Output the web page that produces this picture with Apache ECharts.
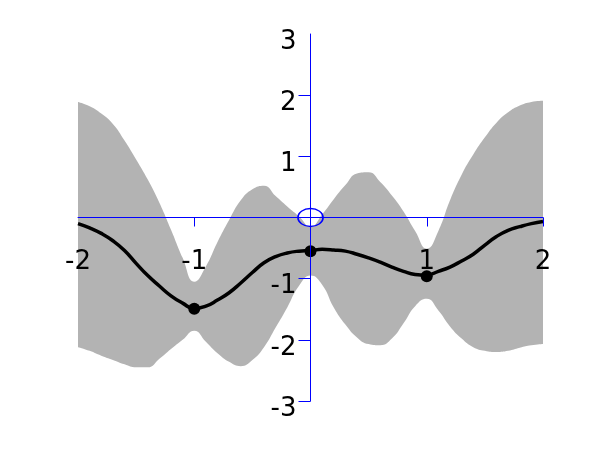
<!DOCTYPE html>
<html>
<head>
<meta charset="utf-8">
<script src="https://cdn.jsdelivr.net/npm/echarts@6/dist/echarts.min.js"></script>
<style>html,body{margin:0;padding:0;background:#fff}#c{width:600px;height:450px}</style>
</head>
<body>
<div id="c"></div>
<script>
const xs = [-2.0,-1.9,-1.8,-1.7,-1.6,-1.5,-1.4,-1.3,-1.2,-1.1,-1.0,-0.9,-0.8,-0.7,-0.6,-0.5,-0.4,-0.3,-0.2,-0.1,0.0,0.1,0.2,0.3,0.4,0.5,0.6,0.7,0.8,0.9,1.0,1.1,1.2,1.3,1.4,1.5,1.6,1.7,1.8,1.9,2.0];
const upper = [1.89,1.82,1.70,1.53,1.26,0.95,0.62,0.24,-0.20,-0.66,-1.05,-0.80,-0.40,-0.04,0.28,0.46,0.52,0.35,0.18,0.02,-0.15,0.05,0.30,0.53,0.72,0.74,0.58,0.36,0.10,-0.22,-0.51,-0.22,0.28,0.70,1.03,1.31,1.55,1.72,1.83,1.89,1.91];
const lower = [-2.12,-2.18,-2.26,-2.33,-2.40,-2.45,-2.45,-2.31,-2.15,-2.00,-1.85,-2.03,-2.22,-2.36,-2.43,-2.33,-2.12,-1.80,-1.47,-1.12,-0.95,-1.10,-1.47,-1.75,-1.96,-2.07,-2.09,-1.98,-1.73,-1.45,-1.33,-1.52,-1.78,-1.98,-2.12,-2.18,-2.20,-2.18,-2.13,-2.09,-2.07];
const mean = [-0.10,-0.17,-0.26,-0.38,-0.54,-0.75,-0.95,-1.12,-1.28,-1.40,-1.49,-1.45,-1.35,-1.23,-1.07,-0.90,-0.74,-0.64,-0.58,-0.55,-0.54,-0.52,-0.53,-0.55,-0.60,-0.66,-0.73,-0.81,-0.88,-0.93,-0.94,-0.88,-0.81,-0.71,-0.60,-0.45,-0.31,-0.21,-0.15,-0.10,-0.065];
const obsX = [-1, 0, 1];
const obsY = [-1.49, -0.55, -0.96];
const xTickLabels = [-2, -1, 1, 2];
const yTickLabels = [-3, -2, -1, 1, 2, 3];
const xTicks = [-1, 0, 1, 2];
const yTicks = [-3, -2, -1, 1, 2];

const chart = echarts.init(document.getElementById('c'), null, {renderer: 'canvas'});
const blue = '#0000ff';
const font = {fontFamily: 'DejaVu Sans', fontSize: 26, fontWeight: 'normal', color: '#000'};
chart.setOption({
  animation: false,
  grid: {left: 78, right: 57, top: 34, bottom: 49, containLabel: false, outerBoundsMode: 'none'},
  xAxis: {
    type: 'value', min: -2, max: 2, z: 10, position: 'bottom',
    axisLine: {onZero: false, lineStyle: {color: blue, width: 1}},
    axisTick: {show: true, length: 9, lineStyle: {color: blue}, customValues: xTicks},
    axisLabel: Object.assign({margin: 32, customValues: xTickLabels}, font),
    splitLine: {show: false}
  },
  yAxis: {
    type: 'value', min: -3, max: 3, z: 10, position: 'left',
    axisLine: {onZero: false, lineStyle: {color: blue, width: 1}},
    axisTick: {show: true, length: 12, lineStyle: {color: blue}, customValues: yTicks},
    axisLabel: Object.assign({margin: 14, verticalAlign: 'top', lineHeight: 16, customValues: yTickLabels}, font),
    splitLine: {show: false}
  },
  series: [
    {
      type: 'line', smooth: true, symbol: 'none',
      data: xs.map((x, i) => [x, upper[i]]),
      lineStyle: {opacity: 0}, areaStyle: {color: '#b3b3b3', opacity: 1, origin: 'start'}, z: 1
    },
    {
      type: 'line', smooth: true, symbol: 'none',
      data: xs.map((x, i) => [x, lower[i]]),
      lineStyle: {opacity: 0}, areaStyle: {color: '#ffffff', opacity: 1, origin: 'start'}, z: 1
    },
    {
      type: 'line', smooth: true, symbol: 'none',
      data: xs.map((x, i) => [x, mean[i]]),
      lineStyle: {color: '#000', width: 3.5}, z: 2
    },
    {
      type: 'scatter', symbol: 'circle', symbolSize: 12,
      data: obsX.map((x, i) => [x, obsY[i]]),
      itemStyle: {color: '#000', opacity: 1}, z: 3
    },
    {
      type: 'scatter', symbol: 'circle', symbolSize: [25, 18],
      data: [[0, 0]],
      itemStyle: {color: 'rgba(0,0,0,0)', borderColor: blue, borderWidth: 1.5, opacity: 1}, z: 12
    }
  ]
});
// move the axes so that they cross at the origin, using the library's own scale
const origin = chart.convertToPixel({gridIndex: 0}, [0, 0]);
const corner = chart.convertToPixel({gridIndex: 0}, [-2, -3]);
chart.setOption({
  xAxis: {offset: origin[1] - corner[1]},
  yAxis: {offset: corner[0] - origin[0]}
});
</script>
</body>
</html>
